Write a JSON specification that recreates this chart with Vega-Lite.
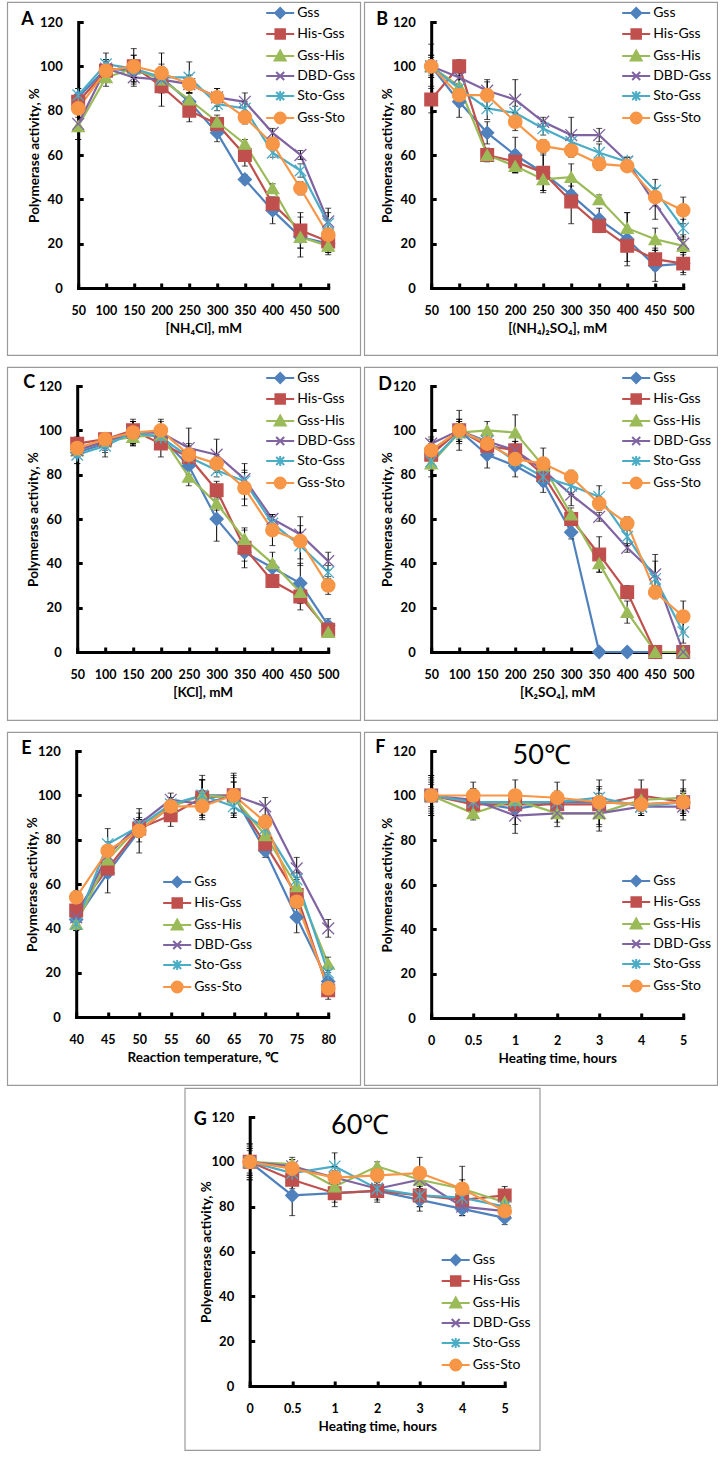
{
"$schema": "https://vega.github.io/schema/vega-lite/v6.json",
"padding": {"left": 6, "top": 1, "right": 0, "bottom": 0},
"datasets": {"d": [
{"p":"A","s":"Gss","x":50,"v":86,"e":4},{"p":"A","s":"Gss","x":100,"v":99,"e":4},{"p":"A","s":"Gss","x":150,"v":98,"e":5},{"p":"A","s":"Gss","x":200,"v":95,"e":6},{"p":"A","s":"Gss","x":250,"v":84,"e":4},{"p":"A","s":"Gss","x":300,"v":70,"e":4},{"p":"A","s":"Gss","x":350,"v":49,"e":2},{"p":"A","s":"Gss","x":400,"v":35,"e":6},{"p":"A","s":"Gss","x":450,"v":23,"e":9},{"p":"A","s":"Gss","x":500,"v":20,"e":5},
{"p":"A","s":"His-Gss","x":50,"v":84,"e":4},{"p":"A","s":"His-Gss","x":100,"v":98,"e":5},{"p":"A","s":"His-Gss","x":150,"v":100,"e":8},{"p":"A","s":"His-Gss","x":200,"v":91,"e":9},{"p":"A","s":"His-Gss","x":250,"v":80,"e":5},{"p":"A","s":"His-Gss","x":300,"v":74,"e":3},{"p":"A","s":"His-Gss","x":350,"v":60,"e":5},{"p":"A","s":"His-Gss","x":400,"v":38,"e":3},{"p":"A","s":"His-Gss","x":450,"v":26,"e":8},{"p":"A","s":"His-Gss","x":500,"v":21,"e":5},
{"p":"A","s":"Gss-His","x":50,"v":73,"e":6},{"p":"A","s":"Gss-His","x":100,"v":95,"e":4},{"p":"A","s":"Gss-His","x":150,"v":99,"e":4},{"p":"A","s":"Gss-His","x":200,"v":94,"e":5},{"p":"A","s":"Gss-His","x":250,"v":85,"e":3},{"p":"A","s":"Gss-His","x":300,"v":75,"e":3},{"p":"A","s":"Gss-His","x":350,"v":65,"e":2},{"p":"A","s":"Gss-His","x":400,"v":45,"e":2},{"p":"A","s":"Gss-His","x":450,"v":23,"e":5},{"p":"A","s":"Gss-His","x":500,"v":19,"e":3},
{"p":"A","s":"DBD-Gss","x":50,"v":74,"e":7},{"p":"A","s":"DBD-Gss","x":100,"v":99,"e":3},{"p":"A","s":"DBD-Gss","x":150,"v":95,"e":4},{"p":"A","s":"DBD-Gss","x":200,"v":94,"e":4},{"p":"A","s":"DBD-Gss","x":250,"v":92,"e":4},{"p":"A","s":"DBD-Gss","x":300,"v":86,"e":4},{"p":"A","s":"DBD-Gss","x":350,"v":84,"e":4},{"p":"A","s":"DBD-Gss","x":400,"v":70,"e":2},{"p":"A","s":"DBD-Gss","x":450,"v":60,"e":2},{"p":"A","s":"DBD-Gss","x":500,"v":30,"e":4},
{"p":"A","s":"Sto-Gss","x":50,"v":87,"e":3},{"p":"A","s":"Sto-Gss","x":100,"v":101,"e":5},{"p":"A","s":"Sto-Gss","x":150,"v":99,"e":6},{"p":"A","s":"Sto-Gss","x":200,"v":95,"e":4},{"p":"A","s":"Sto-Gss","x":250,"v":95,"e":7},{"p":"A","s":"Sto-Gss","x":300,"v":83,"e":3},{"p":"A","s":"Sto-Gss","x":350,"v":81,"e":3},{"p":"A","s":"Sto-Gss","x":400,"v":61,"e":2},{"p":"A","s":"Sto-Gss","x":450,"v":53,"e":3},{"p":"A","s":"Sto-Gss","x":500,"v":29,"e":7},
{"p":"A","s":"Gss-Sto","x":50,"v":81,"e":4},{"p":"A","s":"Gss-Sto","x":100,"v":98,"e":4},{"p":"A","s":"Gss-Sto","x":150,"v":100,"e":5},{"p":"A","s":"Gss-Sto","x":200,"v":97,"e":9},{"p":"A","s":"Gss-Sto","x":250,"v":92,"e":4},{"p":"A","s":"Gss-Sto","x":300,"v":86,"e":4},{"p":"A","s":"Gss-Sto","x":350,"v":77,"e":3},{"p":"A","s":"Gss-Sto","x":400,"v":65,"e":2},{"p":"A","s":"Gss-Sto","x":450,"v":45,"e":3},{"p":"A","s":"Gss-Sto","x":500,"v":24,"e":3},
{"p":"B","s":"Gss","x":50,"v":100,"e":5},{"p":"B","s":"Gss","x":100,"v":84,"e":7},{"p":"B","s":"Gss","x":150,"v":70,"e":5},{"p":"B","s":"Gss","x":200,"v":60,"e":8},{"p":"B","s":"Gss","x":250,"v":52,"e":9},{"p":"B","s":"Gss","x":300,"v":42,"e":4},{"p":"B","s":"Gss","x":350,"v":31,"e":5},{"p":"B","s":"Gss","x":400,"v":22,"e":12},{"p":"B","s":"Gss","x":450,"v":10,"e":7},{"p":"B","s":"Gss","x":500,"v":11,"e":4},
{"p":"B","s":"His-Gss","x":50,"v":85,"e":6},{"p":"B","s":"His-Gss","x":100,"v":100,"e":3},{"p":"B","s":"His-Gss","x":150,"v":60,"e":3},{"p":"B","s":"His-Gss","x":200,"v":57,"e":5},{"p":"B","s":"His-Gss","x":250,"v":52,"e":8},{"p":"B","s":"His-Gss","x":300,"v":39,"e":10},{"p":"B","s":"His-Gss","x":350,"v":28,"e":3},{"p":"B","s":"His-Gss","x":400,"v":19,"e":7},{"p":"B","s":"His-Gss","x":450,"v":13,"e":5},{"p":"B","s":"His-Gss","x":500,"v":11,"e":5},
{"p":"B","s":"Gss-His","x":50,"v":100,"e":4},{"p":"B","s":"Gss-His","x":100,"v":91,"e":5},{"p":"B","s":"Gss-His","x":150,"v":60,"e":3},{"p":"B","s":"Gss-His","x":200,"v":55,"e":3},{"p":"B","s":"Gss-His","x":250,"v":49,"e":5},{"p":"B","s":"Gss-His","x":300,"v":50,"e":6},{"p":"B","s":"Gss-His","x":350,"v":40,"e":2},{"p":"B","s":"Gss-His","x":400,"v":27,"e":7},{"p":"B","s":"Gss-His","x":450,"v":22,"e":5},{"p":"B","s":"Gss-His","x":500,"v":19,"e":3},
{"p":"B","s":"DBD-Gss","x":50,"v":100,"e":10},{"p":"B","s":"DBD-Gss","x":100,"v":95,"e":4},{"p":"B","s":"DBD-Gss","x":150,"v":89,"e":5},{"p":"B","s":"DBD-Gss","x":200,"v":85,"e":9},{"p":"B","s":"DBD-Gss","x":250,"v":75,"e":2},{"p":"B","s":"DBD-Gss","x":300,"v":69,"e":8},{"p":"B","s":"DBD-Gss","x":350,"v":69,"e":3},{"p":"B","s":"DBD-Gss","x":400,"v":57,"e":2},{"p":"B","s":"DBD-Gss","x":450,"v":38,"e":7},{"p":"B","s":"DBD-Gss","x":500,"v":20,"e":4},
{"p":"B","s":"Sto-Gss","x":50,"v":100,"e":3},{"p":"B","s":"Sto-Gss","x":100,"v":90,"e":4},{"p":"B","s":"Sto-Gss","x":150,"v":81,"e":5},{"p":"B","s":"Sto-Gss","x":200,"v":79,"e":3},{"p":"B","s":"Sto-Gss","x":250,"v":72,"e":3},{"p":"B","s":"Sto-Gss","x":300,"v":66,"e":3},{"p":"B","s":"Sto-Gss","x":350,"v":61,"e":4},{"p":"B","s":"Sto-Gss","x":400,"v":57,"e":2},{"p":"B","s":"Sto-Gss","x":450,"v":44,"e":5},{"p":"B","s":"Sto-Gss","x":500,"v":27,"e":4},
{"p":"B","s":"Gss-Sto","x":50,"v":100,"e":5},{"p":"B","s":"Gss-Sto","x":100,"v":87,"e":5},{"p":"B","s":"Gss-Sto","x":150,"v":87,"e":6},{"p":"B","s":"Gss-Sto","x":200,"v":75,"e":4},{"p":"B","s":"Gss-Sto","x":250,"v":64,"e":3},{"p":"B","s":"Gss-Sto","x":300,"v":62,"e":3},{"p":"B","s":"Gss-Sto","x":350,"v":56,"e":3},{"p":"B","s":"Gss-Sto","x":400,"v":55,"e":2},{"p":"B","s":"Gss-Sto","x":450,"v":41,"e":4},{"p":"B","s":"Gss-Sto","x":500,"v":35,"e":6},
{"p":"C","s":"Gss","x":50,"v":90,"e":5},{"p":"C","s":"Gss","x":100,"v":94,"e":4},{"p":"C","s":"Gss","x":150,"v":99,"e":5},{"p":"C","s":"Gss","x":200,"v":97,"e":5},{"p":"C","s":"Gss","x":250,"v":84,"e":4},{"p":"C","s":"Gss","x":300,"v":60,"e":10},{"p":"C","s":"Gss","x":350,"v":45,"e":4},{"p":"C","s":"Gss","x":400,"v":38,"e":3},{"p":"C","s":"Gss","x":450,"v":31,"e":9},{"p":"C","s":"Gss","x":500,"v":12,"e":3},
{"p":"C","s":"His-Gss","x":50,"v":94,"e":3},{"p":"C","s":"His-Gss","x":100,"v":96,"e":3},{"p":"C","s":"His-Gss","x":150,"v":100,"e":4},{"p":"C","s":"His-Gss","x":200,"v":94,"e":6},{"p":"C","s":"His-Gss","x":250,"v":88,"e":3},{"p":"C","s":"His-Gss","x":300,"v":73,"e":4},{"p":"C","s":"His-Gss","x":350,"v":47,"e":9},{"p":"C","s":"His-Gss","x":400,"v":32,"e":2},{"p":"C","s":"His-Gss","x":450,"v":25,"e":6},{"p":"C","s":"His-Gss","x":500,"v":10,"e":3},
{"p":"C","s":"Gss-His","x":50,"v":91,"e":3},{"p":"C","s":"Gss-His","x":100,"v":95,"e":3},{"p":"C","s":"Gss-His","x":150,"v":97,"e":4},{"p":"C","s":"Gss-His","x":200,"v":98,"e":4},{"p":"C","s":"Gss-His","x":250,"v":79,"e":4},{"p":"C","s":"Gss-His","x":300,"v":67,"e":3},{"p":"C","s":"Gss-His","x":350,"v":51,"e":4},{"p":"C","s":"Gss-His","x":400,"v":40,"e":5},{"p":"C","s":"Gss-His","x":450,"v":27,"e":5},{"p":"C","s":"Gss-His","x":500,"v":9,"e":2},
{"p":"C","s":"DBD-Gss","x":50,"v":91,"e":3},{"p":"C","s":"DBD-Gss","x":100,"v":95,"e":4},{"p":"C","s":"DBD-Gss","x":150,"v":99,"e":5},{"p":"C","s":"DBD-Gss","x":200,"v":99,"e":5},{"p":"C","s":"DBD-Gss","x":250,"v":92,"e":9},{"p":"C","s":"DBD-Gss","x":300,"v":89,"e":7},{"p":"C","s":"DBD-Gss","x":350,"v":78,"e":3},{"p":"C","s":"DBD-Gss","x":400,"v":60,"e":2},{"p":"C","s":"DBD-Gss","x":450,"v":53,"e":4},{"p":"C","s":"DBD-Gss","x":500,"v":41,"e":4},
{"p":"C","s":"Sto-Gss","x":50,"v":89,"e":4},{"p":"C","s":"Sto-Gss","x":100,"v":93,"e":5},{"p":"C","s":"Sto-Gss","x":150,"v":99,"e":6},{"p":"C","s":"Sto-Gss","x":200,"v":97,"e":4},{"p":"C","s":"Sto-Gss","x":250,"v":88,"e":5},{"p":"C","s":"Sto-Gss","x":300,"v":82,"e":3},{"p":"C","s":"Sto-Gss","x":350,"v":77,"e":8},{"p":"C","s":"Sto-Gss","x":400,"v":58,"e":3},{"p":"C","s":"Sto-Gss","x":450,"v":48,"e":6},{"p":"C","s":"Sto-Gss","x":500,"v":36,"e":3},
{"p":"C","s":"Gss-Sto","x":50,"v":92,"e":3},{"p":"C","s":"Gss-Sto","x":100,"v":96,"e":3},{"p":"C","s":"Gss-Sto","x":150,"v":99,"e":5},{"p":"C","s":"Gss-Sto","x":200,"v":100,"e":5},{"p":"C","s":"Gss-Sto","x":250,"v":89,"e":5},{"p":"C","s":"Gss-Sto","x":300,"v":85,"e":4},{"p":"C","s":"Gss-Sto","x":350,"v":74,"e":8},{"p":"C","s":"Gss-Sto","x":400,"v":55,"e":7},{"p":"C","s":"Gss-Sto","x":450,"v":50,"e":11},{"p":"C","s":"Gss-Sto","x":500,"v":30,"e":4},
{"p":"D","s":"Gss","x":50,"v":90,"e":5},{"p":"D","s":"Gss","x":100,"v":100,"e":9},{"p":"D","s":"Gss","x":150,"v":89,"e":6},{"p":"D","s":"Gss","x":200,"v":84,"e":5},{"p":"D","s":"Gss","x":250,"v":77,"e":5},{"p":"D","s":"Gss","x":300,"v":54,"e":3},{"p":"D","s":"Gss","x":350,"v":0,"e":0},{"p":"D","s":"Gss","x":400,"v":0,"e":0},{"p":"D","s":"Gss","x":450,"v":0,"e":0},{"p":"D","s":"Gss","x":500,"v":0,"e":0},
{"p":"D","s":"His-Gss","x":50,"v":89,"e":5},{"p":"D","s":"His-Gss","x":100,"v":100,"e":5},{"p":"D","s":"His-Gss","x":150,"v":93,"e":4},{"p":"D","s":"His-Gss","x":200,"v":91,"e":4},{"p":"D","s":"His-Gss","x":250,"v":80,"e":4},{"p":"D","s":"His-Gss","x":300,"v":60,"e":3},{"p":"D","s":"His-Gss","x":350,"v":44,"e":8},{"p":"D","s":"His-Gss","x":400,"v":27,"e":3},{"p":"D","s":"His-Gss","x":450,"v":0,"e":0},{"p":"D","s":"His-Gss","x":500,"v":0,"e":0},
{"p":"D","s":"Gss-His","x":50,"v":85,"e":6},{"p":"D","s":"Gss-His","x":100,"v":99,"e":5},{"p":"D","s":"Gss-His","x":150,"v":100,"e":4},{"p":"D","s":"Gss-His","x":200,"v":99,"e":8},{"p":"D","s":"Gss-His","x":250,"v":84,"e":3},{"p":"D","s":"Gss-His","x":300,"v":62,"e":3},{"p":"D","s":"Gss-His","x":350,"v":40,"e":4},{"p":"D","s":"Gss-His","x":400,"v":18,"e":5},{"p":"D","s":"Gss-His","x":450,"v":0,"e":0},{"p":"D","s":"Gss-His","x":500,"v":0,"e":0},
{"p":"D","s":"DBD-Gss","x":50,"v":94,"e":3},{"p":"D","s":"DBD-Gss","x":100,"v":100,"e":4},{"p":"D","s":"DBD-Gss","x":150,"v":95,"e":4},{"p":"D","s":"DBD-Gss","x":200,"v":91,"e":4},{"p":"D","s":"DBD-Gss","x":250,"v":82,"e":4},{"p":"D","s":"DBD-Gss","x":300,"v":71,"e":5},{"p":"D","s":"DBD-Gss","x":350,"v":61,"e":2},{"p":"D","s":"DBD-Gss","x":400,"v":47,"e":2},{"p":"D","s":"DBD-Gss","x":450,"v":35,"e":9},{"p":"D","s":"DBD-Gss","x":500,"v":0,"e":1},
{"p":"D","s":"Sto-Gss","x":50,"v":86,"e":4},{"p":"D","s":"Sto-Gss","x":100,"v":99,"e":4},{"p":"D","s":"Sto-Gss","x":150,"v":95,"e":3},{"p":"D","s":"Sto-Gss","x":200,"v":86,"e":3},{"p":"D","s":"Sto-Gss","x":250,"v":79,"e":4},{"p":"D","s":"Sto-Gss","x":300,"v":75,"e":4},{"p":"D","s":"Sto-Gss","x":350,"v":70,"e":5},{"p":"D","s":"Sto-Gss","x":400,"v":52,"e":4},{"p":"D","s":"Sto-Gss","x":450,"v":33,"e":8},{"p":"D","s":"Sto-Gss","x":500,"v":9,"e":5},
{"p":"D","s":"Gss-Sto","x":50,"v":91,"e":5},{"p":"D","s":"Gss-Sto","x":100,"v":100,"e":5},{"p":"D","s":"Gss-Sto","x":150,"v":94,"e":5},{"p":"D","s":"Gss-Sto","x":200,"v":87,"e":4},{"p":"D","s":"Gss-Sto","x":250,"v":85,"e":7},{"p":"D","s":"Gss-Sto","x":300,"v":79,"e":3},{"p":"D","s":"Gss-Sto","x":350,"v":67,"e":3},{"p":"D","s":"Gss-Sto","x":400,"v":58,"e":3},{"p":"D","s":"Gss-Sto","x":450,"v":27,"e":3},{"p":"D","s":"Gss-Sto","x":500,"v":16,"e":7},
{"p":"E","s":"Gss","x":40,"v":44,"e":4},{"p":"E","s":"Gss","x":45,"v":65,"e":9},{"p":"E","s":"Gss","x":50,"v":84,"e":5},{"p":"E","s":"Gss","x":55,"v":95,"e":4},{"p":"E","s":"Gss","x":60,"v":100,"e":9},{"p":"E","s":"Gss","x":65,"v":100,"e":8},{"p":"E","s":"Gss","x":70,"v":75,"e":3},{"p":"E","s":"Gss","x":75,"v":45,"e":7},{"p":"E","s":"Gss","x":80,"v":16,"e":4},
{"p":"E","s":"His-Gss","x":40,"v":48,"e":3},{"p":"E","s":"His-Gss","x":45,"v":67,"e":4},{"p":"E","s":"His-Gss","x":50,"v":85,"e":4},{"p":"E","s":"His-Gss","x":55,"v":91,"e":5},{"p":"E","s":"His-Gss","x":60,"v":99,"e":8},{"p":"E","s":"His-Gss","x":65,"v":100,"e":9},{"p":"E","s":"His-Gss","x":70,"v":78,"e":4},{"p":"E","s":"His-Gss","x":75,"v":55,"e":4},{"p":"E","s":"His-Gss","x":80,"v":12,"e":4},
{"p":"E","s":"Gss-His","x":40,"v":42,"e":3},{"p":"E","s":"Gss-His","x":45,"v":71,"e":4},{"p":"E","s":"Gss-His","x":50,"v":86,"e":4},{"p":"E","s":"Gss-His","x":55,"v":95,"e":3},{"p":"E","s":"Gss-His","x":60,"v":100,"e":7},{"p":"E","s":"Gss-His","x":65,"v":99,"e":7},{"p":"E","s":"Gss-His","x":70,"v":82,"e":3},{"p":"E","s":"Gss-His","x":75,"v":59,"e":4},{"p":"E","s":"Gss-His","x":80,"v":24,"e":3},
{"p":"E","s":"DBD-Gss","x":40,"v":45,"e":2},{"p":"E","s":"DBD-Gss","x":45,"v":73,"e":3},{"p":"E","s":"DBD-Gss","x":50,"v":87,"e":5},{"p":"E","s":"DBD-Gss","x":55,"v":98,"e":3},{"p":"E","s":"DBD-Gss","x":60,"v":96,"e":6},{"p":"E","s":"DBD-Gss","x":65,"v":100,"e":6},{"p":"E","s":"DBD-Gss","x":70,"v":95,"e":4},{"p":"E","s":"DBD-Gss","x":75,"v":67,"e":5},{"p":"E","s":"DBD-Gss","x":80,"v":40,"e":4},
{"p":"E","s":"Sto-Gss","x":40,"v":42,"e":3},{"p":"E","s":"Sto-Gss","x":45,"v":78,"e":7},{"p":"E","s":"Sto-Gss","x":50,"v":86,"e":3},{"p":"E","s":"Sto-Gss","x":55,"v":96,"e":3},{"p":"E","s":"Sto-Gss","x":60,"v":100,"e":7},{"p":"E","s":"Sto-Gss","x":65,"v":95,"e":5},{"p":"E","s":"Sto-Gss","x":70,"v":85,"e":3},{"p":"E","s":"Sto-Gss","x":75,"v":62,"e":3},{"p":"E","s":"Sto-Gss","x":80,"v":20,"e":3},
{"p":"E","s":"Gss-Sto","x":40,"v":54,"e":3},{"p":"E","s":"Gss-Sto","x":45,"v":75,"e":4},{"p":"E","s":"Gss-Sto","x":50,"v":84,"e":10},{"p":"E","s":"Gss-Sto","x":55,"v":95,"e":4},{"p":"E","s":"Gss-Sto","x":60,"v":95,"e":6},{"p":"E","s":"Gss-Sto","x":65,"v":100,"e":10},{"p":"E","s":"Gss-Sto","x":70,"v":88,"e":3},{"p":"E","s":"Gss-Sto","x":75,"v":52,"e":3},{"p":"E","s":"Gss-Sto","x":80,"v":13,"e":3},
{"p":"F","s":"Gss","x":0,"v":100,"e":8},{"p":"F","s":"Gss","x":0.5,"v":97,"e":6},{"p":"F","s":"Gss","x":1,"v":94,"e":7},{"p":"F","s":"Gss","x":2,"v":97,"e":5},{"p":"F","s":"Gss","x":3,"v":97,"e":6},{"p":"F","s":"Gss","x":4,"v":96,"e":4},{"p":"F","s":"Gss","x":5,"v":97,"e":5},
{"p":"F","s":"His-Gss","x":0,"v":100,"e":9},{"p":"F","s":"His-Gss","x":0.5,"v":96,"e":5},{"p":"F","s":"His-Gss","x":1,"v":96,"e":5},{"p":"F","s":"His-Gss","x":2,"v":96,"e":5},{"p":"F","s":"His-Gss","x":3,"v":96,"e":5},{"p":"F","s":"His-Gss","x":4,"v":100,"e":7},{"p":"F","s":"His-Gss","x":5,"v":97,"e":4},
{"p":"F","s":"Gss-His","x":0,"v":100,"e":7},{"p":"F","s":"Gss-His","x":0.5,"v":92,"e":3},{"p":"F","s":"Gss-His","x":1,"v":98,"e":4},{"p":"F","s":"Gss-His","x":2,"v":92,"e":6},{"p":"F","s":"Gss-His","x":3,"v":92,"e":6},{"p":"F","s":"Gss-His","x":4,"v":98,"e":4},{"p":"F","s":"Gss-His","x":5,"v":99,"e":8},
{"p":"F","s":"DBD-Gss","x":0,"v":100,"e":9},{"p":"F","s":"DBD-Gss","x":0.5,"v":98,"e":5},{"p":"F","s":"DBD-Gss","x":1,"v":91,"e":8},{"p":"F","s":"DBD-Gss","x":2,"v":92,"e":4},{"p":"F","s":"DBD-Gss","x":3,"v":92,"e":8},{"p":"F","s":"DBD-Gss","x":4,"v":95,"e":4},{"p":"F","s":"DBD-Gss","x":5,"v":95,"e":6},
{"p":"F","s":"Sto-Gss","x":0,"v":100,"e":5},{"p":"F","s":"Sto-Gss","x":0.5,"v":97,"e":4},{"p":"F","s":"Sto-Gss","x":1,"v":97,"e":4},{"p":"F","s":"Sto-Gss","x":2,"v":97,"e":4},{"p":"F","s":"Sto-Gss","x":3,"v":99,"e":5},{"p":"F","s":"Sto-Gss","x":4,"v":95,"e":4},{"p":"F","s":"Sto-Gss","x":5,"v":97,"e":5},
{"p":"F","s":"Gss-Sto","x":0,"v":100,"e":6},{"p":"F","s":"Gss-Sto","x":0.5,"v":100,"e":6},{"p":"F","s":"Gss-Sto","x":1,"v":100,"e":7},{"p":"F","s":"Gss-Sto","x":2,"v":99,"e":7},{"p":"F","s":"Gss-Sto","x":3,"v":97,"e":10},{"p":"F","s":"Gss-Sto","x":4,"v":96,"e":5},{"p":"F","s":"Gss-Sto","x":5,"v":97,"e":6},
{"p":"G","s":"Gss","x":0,"v":100,"e":8},{"p":"G","s":"Gss","x":0.5,"v":85,"e":9},{"p":"G","s":"Gss","x":1,"v":86,"e":4},{"p":"G","s":"Gss","x":2,"v":87,"e":4},{"p":"G","s":"Gss","x":3,"v":83,"e":5},{"p":"G","s":"Gss","x":4,"v":79,"e":3},{"p":"G","s":"Gss","x":5,"v":75,"e":3},
{"p":"G","s":"His-Gss","x":0,"v":100,"e":7},{"p":"G","s":"His-Gss","x":0.5,"v":92,"e":4},{"p":"G","s":"His-Gss","x":1,"v":86,"e":6},{"p":"G","s":"His-Gss","x":2,"v":87,"e":5},{"p":"G","s":"His-Gss","x":3,"v":85,"e":5},{"p":"G","s":"His-Gss","x":4,"v":83,"e":5},{"p":"G","s":"His-Gss","x":5,"v":85,"e":4},
{"p":"G","s":"Gss-His","x":0,"v":100,"e":6},{"p":"G","s":"Gss-His","x":0.5,"v":99,"e":3},{"p":"G","s":"Gss-His","x":1,"v":89,"e":3},{"p":"G","s":"Gss-His","x":2,"v":98,"e":2},{"p":"G","s":"Gss-His","x":3,"v":92,"e":3},{"p":"G","s":"Gss-His","x":4,"v":88,"e":4},{"p":"G","s":"Gss-His","x":5,"v":82,"e":3},
{"p":"G","s":"DBD-Gss","x":0,"v":100,"e":5},{"p":"G","s":"DBD-Gss","x":0.5,"v":98,"e":3},{"p":"G","s":"DBD-Gss","x":1,"v":93,"e":3},{"p":"G","s":"DBD-Gss","x":2,"v":88,"e":4},{"p":"G","s":"DBD-Gss","x":3,"v":92,"e":4},{"p":"G","s":"DBD-Gss","x":4,"v":80,"e":4},{"p":"G","s":"DBD-Gss","x":5,"v":78,"e":3},
{"p":"G","s":"Sto-Gss","x":0,"v":100,"e":8},{"p":"G","s":"Sto-Gss","x":0.5,"v":95,"e":4},{"p":"G","s":"Sto-Gss","x":1,"v":98,"e":6},{"p":"G","s":"Sto-Gss","x":2,"v":88,"e":3},{"p":"G","s":"Sto-Gss","x":3,"v":85,"e":5},{"p":"G","s":"Sto-Gss","x":4,"v":84,"e":4},{"p":"G","s":"Sto-Gss","x":5,"v":80,"e":3},
{"p":"G","s":"Gss-Sto","x":0,"v":100,"e":6},{"p":"G","s":"Gss-Sto","x":0.5,"v":97,"e":4},{"p":"G","s":"Gss-Sto","x":1,"v":93,"e":5},{"p":"G","s":"Gss-Sto","x":2,"v":94,"e":4},{"p":"G","s":"Gss-Sto","x":3,"v":95,"e":7},{"p":"G","s":"Gss-Sto","x":4,"v":88,"e":10},{"p":"G","s":"Gss-Sto","x":5,"v":78,"e":3}
]},
"data": {"name": "d"},
"vconcat": [
 {"concat": [
   {"width": 353, "height": 353,
    "title": {"text": "A", "dx": 14, "dy": 31},
    "transform": [{"filter": "datum.p==='A'"}],
    "encoding": {
     "x": {"field": "x", "type": "ordinal", "scale": {"type": "point", "domain": [50,100,150,200,250,300,350,400,450,500], "range": [71,321], "padding": 0}, "axis": {"title": "[NH₄Cl], mM", "offset": -67}},
     "y": {"field": "v", "type": "quantitative", "scale": {"domain": [0,120], "range": [286,20], "nice": false}, "axis": {"title": "Polymerase activity, %", "offset": -71, "values": [0,20,40,60,80,100,120]}}
    },
    "resolve": {"scale": {"color": "independent", "stroke": "independent", "shape": "independent", "size": "independent"}},
    "layer": [
     {"mark": {"type": "line", "strokeWidth": 2.2}, "encoding": {"color": {"field": "s", "type": "nominal", "scale": {"domain": ["Gss-Sto","Gss","His-Gss","Gss-His","DBD-Gss","Sto-Gss"], "range": ["#F79646","#4F81BD","#C0504D","#9BBB59","#8064A2","#4BACC6"]}, "legend": null}}},
     {"mark": {"type": "errorbar", "color": "black", "ticks": {"size": 6, "color": "black"}, "rule": {"color": "black", "strokeWidth": 1}}, "encoding": {"yError": {"field": "e"}}},
     {"mark": {"type": "point", "filled": true, "opacity": 1, "strokeWidth": 1.3},
      "encoding": {
       "color": {"field": "s", "type": "nominal", "scale": {"domain": ["Gss-Sto","Gss","His-Gss","Gss-His","DBD-Gss","Sto-Gss"], "range": ["#F79646","#4F81BD","#C0504D","#9BBB59","#8064A2","#4BACC6"]}, "legend": null},
       "stroke": {"field": "s", "type": "nominal", "scale": {"domain": ["Gss-Sto","Gss","His-Gss","Gss-His","DBD-Gss","Sto-Gss"], "range": ["#F79646","#4F81BD","#C0504D","#9BBB59","#8064A2","#4BACC6"]}, "legend": null},
       "size": {"field": "s", "type": "nominal", "scale": {"domain": ["Gss-Sto","Gss","His-Gss","Gss-His","DBD-Gss","Sto-Gss"], "range": [180,130,120,150,100,110]}, "legend": null},
       "shape": {"field": "s", "type": "nominal", "scale": {"domain": ["Gss-Sto","Gss","His-Gss","Gss-His","DBD-Gss","Sto-Gss"], "range": ["circle","diamond","square","triangle-up","M-1,-1L1,1M-1,1L1,-1","M-1,-1L1,1M-1,1L1,-1M0,-1.2V1.2"]}, "legend": null}
      }},
     {"mark": {"type": "point", "filled": true, "opacity": 0},
      "encoding": {
       "color": {"field": "s", "type": "nominal", "scale": {"domain": ["Gss","His-Gss","Gss-His","DBD-Gss","Sto-Gss","Gss-Sto"], "range": ["#4F81BD","#C0504D","#9BBB59","#8064A2","#4BACC6","#F79646"]}, "legend": {"orient": "none", "legendX": 266, "legendY": 4, "title": null}},
       "stroke": {"field": "s", "type": "nominal", "scale": {"domain": ["Gss","His-Gss","Gss-His","DBD-Gss","Sto-Gss","Gss-Sto"], "range": ["#4F81BD","#C0504D","#9BBB59","#8064A2","#4BACC6","#F79646"]}, "legend": {"orient": "none", "legendX": 266, "legendY": 4, "title": null}},
       "shape": {"field": "s", "type": "nominal", "scale": {"domain": ["Gss","His-Gss","Gss-His","DBD-Gss","Sto-Gss","Gss-Sto"], "range": ["M-2.8,0H2.8M-1,0L0,-1L1,0L0,1Z","M-2.8,0H2.8M-0.95,-0.95H0.95V0.95H-0.95Z","M-2.8,0H2.8M0,-1.1L1.1,0.9H-1.1Z","M-2.8,0H2.8M-0.8,-0.8L0.8,0.8M-0.8,0.8L0.8,-0.8","M-2.8,0H2.8M-0.8,-0.8L0.8,0.8M-0.8,0.8L0.8,-0.8M0,-1V1","M-2.8,0H2.8M-1.1,0A1.1,1.1,0,1,0,1.1,0A1.1,1.1,0,1,0,-1.1,0Z"]}, "legend": {"orient": "none", "legendX": 266, "legendY": 4, "title": null}}
      }}
    ]},
   {"width": 353, "height": 353,
    "title": {"text": "B", "dx": 12, "dy": 31},
    "transform": [{"filter": "datum.p==='B'"}],
    "encoding": {
     "x": {"field": "x", "type": "ordinal", "scale": {"type": "point", "domain": [50,100,150,200,250,300,350,400,450,500], "range": [67,319], "padding": 0}, "axis": {"title": "[(NH₄)₂SO₄], mM", "offset": -67}},
     "y": {"field": "v", "type": "quantitative", "scale": {"domain": [0,120], "range": [286,20], "nice": false}, "axis": {"title": "Polymerase activity, %", "offset": -67, "values": [0,20,40,60,80,100,120]}}
    },
    "resolve": {"scale": {"color": "independent", "stroke": "independent", "shape": "independent", "size": "independent"}},
    "layer": [
     {"mark": {"type": "line", "strokeWidth": 2.2}, "encoding": {"color": {"field": "s", "type": "nominal", "scale": {"domain": ["Gss-Sto","Gss","His-Gss","Gss-His","DBD-Gss","Sto-Gss"], "range": ["#F79646","#4F81BD","#C0504D","#9BBB59","#8064A2","#4BACC6"]}, "legend": null}}},
     {"mark": {"type": "errorbar", "color": "black", "ticks": {"size": 6, "color": "black"}, "rule": {"color": "black", "strokeWidth": 1}}, "encoding": {"yError": {"field": "e"}}},
     {"mark": {"type": "point", "filled": true, "opacity": 1, "strokeWidth": 1.3},
      "encoding": {
       "color": {"field": "s", "type": "nominal", "scale": {"domain": ["Gss-Sto","Gss","His-Gss","Gss-His","DBD-Gss","Sto-Gss"], "range": ["#F79646","#4F81BD","#C0504D","#9BBB59","#8064A2","#4BACC6"]}, "legend": null},
       "stroke": {"field": "s", "type": "nominal", "scale": {"domain": ["Gss-Sto","Gss","His-Gss","Gss-His","DBD-Gss","Sto-Gss"], "range": ["#F79646","#4F81BD","#C0504D","#9BBB59","#8064A2","#4BACC6"]}, "legend": null},
       "size": {"field": "s", "type": "nominal", "scale": {"domain": ["Gss-Sto","Gss","His-Gss","Gss-His","DBD-Gss","Sto-Gss"], "range": [180,130,120,150,100,110]}, "legend": null},
       "shape": {"field": "s", "type": "nominal", "scale": {"domain": ["Gss-Sto","Gss","His-Gss","Gss-His","DBD-Gss","Sto-Gss"], "range": ["circle","diamond","square","triangle-up","M-1,-1L1,1M-1,1L1,-1","M-1,-1L1,1M-1,1L1,-1M0,-1.2V1.2"]}, "legend": null}
      }},
     {"mark": {"type": "point", "filled": true, "opacity": 0},
      "encoding": {
       "color": {"field": "s", "type": "nominal", "scale": {"domain": ["Gss","His-Gss","Gss-His","DBD-Gss","Sto-Gss","Gss-Sto"], "range": ["#4F81BD","#C0504D","#9BBB59","#8064A2","#4BACC6","#F79646"]}, "legend": {"orient": "none", "legendX": 265, "legendY": 4, "title": null}},
       "stroke": {"field": "s", "type": "nominal", "scale": {"domain": ["Gss","His-Gss","Gss-His","DBD-Gss","Sto-Gss","Gss-Sto"], "range": ["#4F81BD","#C0504D","#9BBB59","#8064A2","#4BACC6","#F79646"]}, "legend": {"orient": "none", "legendX": 265, "legendY": 4, "title": null}},
       "shape": {"field": "s", "type": "nominal", "scale": {"domain": ["Gss","His-Gss","Gss-His","DBD-Gss","Sto-Gss","Gss-Sto"], "range": ["M-2.8,0H2.8M-1,0L0,-1L1,0L0,1Z","M-2.8,0H2.8M-0.95,-0.95H0.95V0.95H-0.95Z","M-2.8,0H2.8M0,-1.1L1.1,0.9H-1.1Z","M-2.8,0H2.8M-0.8,-0.8L0.8,0.8M-0.8,0.8L0.8,-0.8","M-2.8,0H2.8M-0.8,-0.8L0.8,0.8M-0.8,0.8L0.8,-0.8M0,-1V1","M-2.8,0H2.8M-1.1,0A1.1,1.1,0,1,0,1.1,0A1.1,1.1,0,1,0,-1.1,0Z"]}, "legend": {"orient": "none", "legendX": 265, "legendY": 4, "title": null}}
      }}
    ]},
   {"width": 353, "height": 353,
    "title": {"text": "C", "dx": 16, "dy": 29},
    "transform": [{"filter": "datum.p==='C'"}],
    "encoding": {
     "x": {"field": "x", "type": "ordinal", "scale": {"type": "point", "domain": [50,100,150,200,250,300,350,400,450,500], "range": [70,321], "padding": 0}, "axis": {"title": "[KCl], mM", "offset": -68}},
     "y": {"field": "v", "type": "quantitative", "scale": {"domain": [0,120], "range": [285,19], "nice": false}, "axis": {"title": "Polymerase activity, %", "offset": -70, "values": [0,20,40,60,80,100,120]}}
    },
    "resolve": {"scale": {"color": "independent", "stroke": "independent", "shape": "independent", "size": "independent"}},
    "layer": [
     {"mark": {"type": "line", "strokeWidth": 2.2}, "encoding": {"color": {"field": "s", "type": "nominal", "scale": {"domain": ["Gss-Sto","Gss","His-Gss","Gss-His","DBD-Gss","Sto-Gss"], "range": ["#F79646","#4F81BD","#C0504D","#9BBB59","#8064A2","#4BACC6"]}, "legend": null}}},
     {"mark": {"type": "errorbar", "color": "black", "ticks": {"size": 6, "color": "black"}, "rule": {"color": "black", "strokeWidth": 1}}, "encoding": {"yError": {"field": "e"}}},
     {"mark": {"type": "point", "filled": true, "opacity": 1, "strokeWidth": 1.3},
      "encoding": {
       "color": {"field": "s", "type": "nominal", "scale": {"domain": ["Gss-Sto","Gss","His-Gss","Gss-His","DBD-Gss","Sto-Gss"], "range": ["#F79646","#4F81BD","#C0504D","#9BBB59","#8064A2","#4BACC6"]}, "legend": null},
       "stroke": {"field": "s", "type": "nominal", "scale": {"domain": ["Gss-Sto","Gss","His-Gss","Gss-His","DBD-Gss","Sto-Gss"], "range": ["#F79646","#4F81BD","#C0504D","#9BBB59","#8064A2","#4BACC6"]}, "legend": null},
       "size": {"field": "s", "type": "nominal", "scale": {"domain": ["Gss-Sto","Gss","His-Gss","Gss-His","DBD-Gss","Sto-Gss"], "range": [180,130,120,150,100,110]}, "legend": null},
       "shape": {"field": "s", "type": "nominal", "scale": {"domain": ["Gss-Sto","Gss","His-Gss","Gss-His","DBD-Gss","Sto-Gss"], "range": ["circle","diamond","square","triangle-up","M-1,-1L1,1M-1,1L1,-1","M-1,-1L1,1M-1,1L1,-1M0,-1.2V1.2"]}, "legend": null}
      }},
     {"mark": {"type": "point", "filled": true, "opacity": 0},
      "encoding": {
       "color": {"field": "s", "type": "nominal", "scale": {"domain": ["Gss","His-Gss","Gss-His","DBD-Gss","Sto-Gss","Gss-Sto"], "range": ["#4F81BD","#C0504D","#9BBB59","#8064A2","#4BACC6","#F79646"]}, "legend": {"orient": "none", "legendX": 266, "legendY": 4, "title": null}},
       "stroke": {"field": "s", "type": "nominal", "scale": {"domain": ["Gss","His-Gss","Gss-His","DBD-Gss","Sto-Gss","Gss-Sto"], "range": ["#4F81BD","#C0504D","#9BBB59","#8064A2","#4BACC6","#F79646"]}, "legend": {"orient": "none", "legendX": 266, "legendY": 4, "title": null}},
       "shape": {"field": "s", "type": "nominal", "scale": {"domain": ["Gss","His-Gss","Gss-His","DBD-Gss","Sto-Gss","Gss-Sto"], "range": ["M-2.8,0H2.8M-1,0L0,-1L1,0L0,1Z","M-2.8,0H2.8M-0.95,-0.95H0.95V0.95H-0.95Z","M-2.8,0H2.8M0,-1.1L1.1,0.9H-1.1Z","M-2.8,0H2.8M-0.8,-0.8L0.8,0.8M-0.8,0.8L0.8,-0.8","M-2.8,0H2.8M-0.8,-0.8L0.8,0.8M-0.8,0.8L0.8,-0.8M0,-1V1","M-2.8,0H2.8M-1.1,0A1.1,1.1,0,1,0,1.1,0A1.1,1.1,0,1,0,-1.1,0Z"]}, "legend": {"orient": "none", "legendX": 266, "legendY": 4, "title": null}}
      }}
    ]},
   {"width": 353, "height": 353,
    "title": {"text": "D", "dx": 14, "dy": 31},
    "transform": [{"filter": "datum.p==='D'"}],
    "encoding": {
     "x": {"field": "x", "type": "ordinal", "scale": {"type": "point", "domain": [50,100,150,200,250,300,350,400,450,500], "range": [67,319], "padding": 0}, "axis": {"title": "[K₂SO₄], mM", "offset": -68}},
     "y": {"field": "v", "type": "quantitative", "scale": {"domain": [0,120], "range": [285,19], "nice": false}, "axis": {"title": "Polymerase activity, %", "offset": -67, "values": [0,20,40,60,80,100,120]}}
    },
    "resolve": {"scale": {"color": "independent", "stroke": "independent", "shape": "independent", "size": "independent"}},
    "layer": [
     {"mark": {"type": "line", "strokeWidth": 2.2}, "encoding": {"color": {"field": "s", "type": "nominal", "scale": {"domain": ["Gss-Sto","Gss","His-Gss","Gss-His","DBD-Gss","Sto-Gss"], "range": ["#F79646","#4F81BD","#C0504D","#9BBB59","#8064A2","#4BACC6"]}, "legend": null}}},
     {"mark": {"type": "errorbar", "color": "black", "ticks": {"size": 6, "color": "black"}, "rule": {"color": "black", "strokeWidth": 1}}, "encoding": {"yError": {"field": "e"}}},
     {"mark": {"type": "point", "filled": true, "opacity": 1, "strokeWidth": 1.3},
      "encoding": {
       "color": {"field": "s", "type": "nominal", "scale": {"domain": ["Gss-Sto","Gss","His-Gss","Gss-His","DBD-Gss","Sto-Gss"], "range": ["#F79646","#4F81BD","#C0504D","#9BBB59","#8064A2","#4BACC6"]}, "legend": null},
       "stroke": {"field": "s", "type": "nominal", "scale": {"domain": ["Gss-Sto","Gss","His-Gss","Gss-His","DBD-Gss","Sto-Gss"], "range": ["#F79646","#4F81BD","#C0504D","#9BBB59","#8064A2","#4BACC6"]}, "legend": null},
       "size": {"field": "s", "type": "nominal", "scale": {"domain": ["Gss-Sto","Gss","His-Gss","Gss-His","DBD-Gss","Sto-Gss"], "range": [180,130,120,150,100,110]}, "legend": null},
       "shape": {"field": "s", "type": "nominal", "scale": {"domain": ["Gss-Sto","Gss","His-Gss","Gss-His","DBD-Gss","Sto-Gss"], "range": ["circle","diamond","square","triangle-up","M-1,-1L1,1M-1,1L1,-1","M-1,-1L1,1M-1,1L1,-1M0,-1.2V1.2"]}, "legend": null}
      }},
     {"mark": {"type": "point", "filled": true, "opacity": 0},
      "encoding": {
       "color": {"field": "s", "type": "nominal", "scale": {"domain": ["Gss","His-Gss","Gss-His","DBD-Gss","Sto-Gss","Gss-Sto"], "range": ["#4F81BD","#C0504D","#9BBB59","#8064A2","#4BACC6","#F79646"]}, "legend": {"orient": "none", "legendX": 265, "legendY": 4, "title": null}},
       "stroke": {"field": "s", "type": "nominal", "scale": {"domain": ["Gss","His-Gss","Gss-His","DBD-Gss","Sto-Gss","Gss-Sto"], "range": ["#4F81BD","#C0504D","#9BBB59","#8064A2","#4BACC6","#F79646"]}, "legend": {"orient": "none", "legendX": 265, "legendY": 4, "title": null}},
       "shape": {"field": "s", "type": "nominal", "scale": {"domain": ["Gss","His-Gss","Gss-His","DBD-Gss","Sto-Gss","Gss-Sto"], "range": ["M-2.8,0H2.8M-1,0L0,-1L1,0L0,1Z","M-2.8,0H2.8M-0.95,-0.95H0.95V0.95H-0.95Z","M-2.8,0H2.8M0,-1.1L1.1,0.9H-1.1Z","M-2.8,0H2.8M-0.8,-0.8L0.8,0.8M-0.8,0.8L0.8,-0.8","M-2.8,0H2.8M-0.8,-0.8L0.8,0.8M-0.8,0.8L0.8,-0.8M0,-1V1","M-2.8,0H2.8M-1.1,0A1.1,1.1,0,1,0,1.1,0A1.1,1.1,0,1,0,-1.1,0Z"]}, "legend": {"orient": "none", "legendX": 265, "legendY": 4, "title": null}}
      }}
    ]},
   {"width": 353, "height": 353,
    "title": {"text": "E", "dx": 14, "dy": 30},
    "transform": [{"filter": "datum.p==='E'"}],
    "encoding": {
     "x": {"field": "x", "type": "ordinal", "scale": {"type": "point", "domain": [40,45,50,55,60,65,70,75,80], "range": [69,321], "padding": 0}, "axis": {"title": "Reaction temperature, ℃", "offset": -68}},
     "y": {"field": "v", "type": "quantitative", "scale": {"domain": [0,120], "range": [285,19], "nice": false}, "axis": {"title": "Polymerase activity, %", "offset": -69, "values": [0,20,40,60,80,100,120]}}
    },
    "resolve": {"scale": {"color": "independent", "stroke": "independent", "shape": "independent", "size": "independent"}},
    "layer": [
     {"mark": {"type": "line", "strokeWidth": 2.2}, "encoding": {"color": {"field": "s", "type": "nominal", "scale": {"domain": ["Gss-Sto","Gss","His-Gss","Gss-His","DBD-Gss","Sto-Gss"], "range": ["#F79646","#4F81BD","#C0504D","#9BBB59","#8064A2","#4BACC6"]}, "legend": null}}},
     {"mark": {"type": "errorbar", "color": "black", "ticks": {"size": 6, "color": "black"}, "rule": {"color": "black", "strokeWidth": 1}}, "encoding": {"yError": {"field": "e"}}},
     {"mark": {"type": "point", "filled": true, "opacity": 1, "strokeWidth": 1.3},
      "encoding": {
       "color": {"field": "s", "type": "nominal", "scale": {"domain": ["Gss-Sto","Gss","His-Gss","Gss-His","DBD-Gss","Sto-Gss"], "range": ["#F79646","#4F81BD","#C0504D","#9BBB59","#8064A2","#4BACC6"]}, "legend": null},
       "stroke": {"field": "s", "type": "nominal", "scale": {"domain": ["Gss-Sto","Gss","His-Gss","Gss-His","DBD-Gss","Sto-Gss"], "range": ["#F79646","#4F81BD","#C0504D","#9BBB59","#8064A2","#4BACC6"]}, "legend": null},
       "size": {"field": "s", "type": "nominal", "scale": {"domain": ["Gss-Sto","Gss","His-Gss","Gss-His","DBD-Gss","Sto-Gss"], "range": [180,130,120,150,100,110]}, "legend": null},
       "shape": {"field": "s", "type": "nominal", "scale": {"domain": ["Gss-Sto","Gss","His-Gss","Gss-His","DBD-Gss","Sto-Gss"], "range": ["circle","diamond","square","triangle-up","M-1,-1L1,1M-1,1L1,-1","M-1,-1L1,1M-1,1L1,-1M0,-1.2V1.2"]}, "legend": null}
      }},
     {"mark": {"type": "point", "filled": true, "opacity": 0},
      "encoding": {
       "color": {"field": "s", "type": "nominal", "scale": {"domain": ["Gss","His-Gss","Gss-His","DBD-Gss","Sto-Gss","Gss-Sto"], "range": ["#4F81BD","#C0504D","#9BBB59","#8064A2","#4BACC6","#F79646"]}, "legend": {"orient": "none", "legendX": 163, "legendY": 143, "title": null}},
       "stroke": {"field": "s", "type": "nominal", "scale": {"domain": ["Gss","His-Gss","Gss-His","DBD-Gss","Sto-Gss","Gss-Sto"], "range": ["#4F81BD","#C0504D","#9BBB59","#8064A2","#4BACC6","#F79646"]}, "legend": {"orient": "none", "legendX": 163, "legendY": 143, "title": null}},
       "shape": {"field": "s", "type": "nominal", "scale": {"domain": ["Gss","His-Gss","Gss-His","DBD-Gss","Sto-Gss","Gss-Sto"], "range": ["M-2.8,0H2.8M-1,0L0,-1L1,0L0,1Z","M-2.8,0H2.8M-0.95,-0.95H0.95V0.95H-0.95Z","M-2.8,0H2.8M0,-1.1L1.1,0.9H-1.1Z","M-2.8,0H2.8M-0.8,-0.8L0.8,0.8M-0.8,0.8L0.8,-0.8","M-2.8,0H2.8M-0.8,-0.8L0.8,0.8M-0.8,0.8L0.8,-0.8M0,-1V1","M-2.8,0H2.8M-1.1,0A1.1,1.1,0,1,0,1.1,0A1.1,1.1,0,1,0,-1.1,0Z"]}, "legend": {"orient": "none", "legendX": 163, "legendY": 143, "title": null}}
      }}
    ]},
   {"width": 353, "height": 353,
    "title": {"text": "F", "dx": 11, "dy": 29},
    "transform": [{"filter": "datum.p==='F'"}],
    "encoding": {
     "x": {"field": "x", "type": "ordinal", "scale": {"type": "point", "domain": [0,0.5,1,2,3,4,5], "range": [67,319], "padding": 0}, "axis": {"title": "Heating time, hours", "offset": -67}},
     "y": {"field": "v", "type": "quantitative", "scale": {"domain": [0,120], "range": [286,19], "nice": false}, "axis": {"title": "Polymerase activity, %", "offset": -67, "values": [0,20,40,60,80,100,120]}}
    },
    "resolve": {"axis": {"x": "independent"}, "scale": {"color": "independent", "stroke": "independent", "shape": "independent", "size": "independent"}},
    "layer": [
     {"mark": {"type": "line", "strokeWidth": 2.2}, "encoding": {
       "x": {"field": "x", "type": "ordinal", "scale": {"type": "point", "domain": [0,0.5,1,2,3,4,5], "range": [67,319], "padding": 0}, "axis": {"orient": "top", "title": "50℃", "titleFontSize": 27, "titleFontWeight": "normal", "labels": false, "ticks": false, "domain": false, "offset": -37, "titlePadding": 0, "titleX": 177}},
       "color": {"field": "s", "type": "nominal", "scale": {"domain": ["Gss-Sto","Gss","His-Gss","Gss-His","DBD-Gss","Sto-Gss"], "range": ["#F79646","#4F81BD","#C0504D","#9BBB59","#8064A2","#4BACC6"]}, "legend": null}}},
     {"mark": {"type": "errorbar", "color": "black", "ticks": {"size": 6, "color": "black"}, "rule": {"color": "black", "strokeWidth": 1}}, "encoding": {"yError": {"field": "e"}}},
     {"mark": {"type": "point", "filled": true, "opacity": 1, "strokeWidth": 1.3},
      "encoding": {
       "x": {"field": "x", "type": "ordinal", "scale": {"type": "point", "domain": [0,0.5,1,2,3,4,5], "range": [67,319], "padding": 0}, "axis": null},
       "color": {"field": "s", "type": "nominal", "scale": {"domain": ["Gss-Sto","Gss","His-Gss","Gss-His","DBD-Gss","Sto-Gss"], "range": ["#F79646","#4F81BD","#C0504D","#9BBB59","#8064A2","#4BACC6"]}, "legend": null},
       "stroke": {"field": "s", "type": "nominal", "scale": {"domain": ["Gss-Sto","Gss","His-Gss","Gss-His","DBD-Gss","Sto-Gss"], "range": ["#F79646","#4F81BD","#C0504D","#9BBB59","#8064A2","#4BACC6"]}, "legend": null},
       "size": {"field": "s", "type": "nominal", "scale": {"domain": ["Gss-Sto","Gss","His-Gss","Gss-His","DBD-Gss","Sto-Gss"], "range": [180,130,120,150,100,110]}, "legend": null},
       "shape": {"field": "s", "type": "nominal", "scale": {"domain": ["Gss-Sto","Gss","His-Gss","Gss-His","DBD-Gss","Sto-Gss"], "range": ["circle","diamond","square","triangle-up","M-1,-1L1,1M-1,1L1,-1","M-1,-1L1,1M-1,1L1,-1M0,-1.2V1.2"]}, "legend": null}
      }},
     {"mark": {"type": "point", "filled": true, "opacity": 0},
      "encoding": {
       "x": {"field": "x", "type": "ordinal", "scale": {"type": "point", "domain": [0,0.5,1,2,3,4,5], "range": [67,319], "padding": 0}, "axis": null},
       "color": {"field": "s", "type": "nominal", "scale": {"domain": ["Gss","His-Gss","Gss-His","DBD-Gss","Sto-Gss","Gss-Sto"], "range": ["#4F81BD","#C0504D","#9BBB59","#8064A2","#4BACC6","#F79646"]}, "legend": {"orient": "none", "legendX": 265, "legendY": 142, "title": null}},
       "stroke": {"field": "s", "type": "nominal", "scale": {"domain": ["Gss","His-Gss","Gss-His","DBD-Gss","Sto-Gss","Gss-Sto"], "range": ["#4F81BD","#C0504D","#9BBB59","#8064A2","#4BACC6","#F79646"]}, "legend": {"orient": "none", "legendX": 265, "legendY": 142, "title": null}},
       "shape": {"field": "s", "type": "nominal", "scale": {"domain": ["Gss","His-Gss","Gss-His","DBD-Gss","Sto-Gss","Gss-Sto"], "range": ["M-2.8,0H2.8M-1,0L0,-1L1,0L0,1Z","M-2.8,0H2.8M-0.95,-0.95H0.95V0.95H-0.95Z","M-2.8,0H2.8M0,-1.1L1.1,0.9H-1.1Z","M-2.8,0H2.8M-0.8,-0.8L0.8,0.8M-0.8,0.8L0.8,-0.8","M-2.8,0H2.8M-0.8,-0.8L0.8,0.8M-0.8,0.8L0.8,-0.8M0,-1V1","M-2.8,0H2.8M-1.1,0A1.1,1.1,0,1,0,1.1,0A1.1,1.1,0,1,0,-1.1,0Z"]}, "legend": {"orient": "none", "legendX": 265, "legendY": 142, "title": null}}
      }}
    ]}
 ], "columns": 2, "spacing": {"row": 12, "column": 4}, "bounds": "flush",
 "resolve": {"scale": {"color": "independent", "stroke": "independent", "size": "independent", "shape": "independent"}}},
 {"width": 355, "height": 362,
  "title": {"text": "G", "dx": 9, "dy": 45},
  "transform": [{"filter": "datum.p==='G'"}],
  "encoding": {
   "x": {"field": "x", "type": "ordinal", "scale": {"type": "point", "domain": [0,0.5,1,2,3,4,5], "range": [65,320], "padding": 0}, "axis": {"title": "Heating time, hours", "offset": -64}},
   "y": {"field": "v", "type": "quantitative", "scale": {"domain": [0,120], "range": [298,29], "nice": false}, "axis": {"title": "Polyemerase activity, %", "offset": -65, "values": [0,20,40,60,80,100,120]}}
  },
  "resolve": {"axis": {"x": "independent"}, "scale": {"color": "independent", "stroke": "independent", "shape": "independent", "size": "independent"}},
  "layer": [
   {"mark": {"type": "line", "strokeWidth": 2.2}, "encoding": {
     "x": {"field": "x", "type": "ordinal", "scale": {"type": "point", "domain": [0,0.5,1,2,3,4,5], "range": [65,320], "padding": 0}, "axis": {"orient": "top", "title": "60℃", "titleFontSize": 27, "titleFontWeight": "normal", "labels": false, "ticks": false, "domain": false, "offset": -51, "titlePadding": 0, "titleX": 175}},
     "color": {"field": "s", "type": "nominal", "scale": {"domain": ["Gss-Sto","Gss","His-Gss","Gss-His","DBD-Gss","Sto-Gss"], "range": ["#F79646","#4F81BD","#C0504D","#9BBB59","#8064A2","#4BACC6"]}, "legend": null}}},
   {"mark": {"type": "errorbar", "color": "black", "ticks": {"size": 6, "color": "black"}, "rule": {"color": "black", "strokeWidth": 1}}, "encoding": {"yError": {"field": "e"}}},
   {"mark": {"type": "point", "filled": true, "opacity": 1, "strokeWidth": 1.3},
    "encoding": {
     "x": {"field": "x", "type": "ordinal", "scale": {"type": "point", "domain": [0,0.5,1,2,3,4,5], "range": [65,320], "padding": 0}, "axis": null},
     "color": {"field": "s", "type": "nominal", "scale": {"domain": ["Gss-Sto","Gss","His-Gss","Gss-His","DBD-Gss","Sto-Gss"], "range": ["#F79646","#4F81BD","#C0504D","#9BBB59","#8064A2","#4BACC6"]}, "legend": null},
     "stroke": {"field": "s", "type": "nominal", "scale": {"domain": ["Gss-Sto","Gss","His-Gss","Gss-His","DBD-Gss","Sto-Gss"], "range": ["#F79646","#4F81BD","#C0504D","#9BBB59","#8064A2","#4BACC6"]}, "legend": null},
     "size": {"field": "s", "type": "nominal", "scale": {"domain": ["Gss-Sto","Gss","His-Gss","Gss-His","DBD-Gss","Sto-Gss"], "range": [180,130,120,150,100,110]}, "legend": null},
     "shape": {"field": "s", "type": "nominal", "scale": {"domain": ["Gss-Sto","Gss","His-Gss","Gss-His","DBD-Gss","Sto-Gss"], "range": ["circle","diamond","square","triangle-up","M-1,-1L1,1M-1,1L1,-1","M-1,-1L1,1M-1,1L1,-1M0,-1.2V1.2"]}, "legend": null}
    }},
   {"mark": {"type": "point", "filled": true, "opacity": 0},
    "encoding": {
     "x": {"field": "x", "type": "ordinal", "scale": {"type": "point", "domain": [0,0.5,1,2,3,4,5], "range": [65,320], "padding": 0}, "axis": null},
     "color": {"field": "s", "type": "nominal", "scale": {"domain": ["Gss","His-Gss","Gss-His","DBD-Gss","Sto-Gss","Gss-Sto"], "range": ["#4F81BD","#C0504D","#9BBB59","#8064A2","#4BACC6","#F79646"]}, "legend": {"orient": "none", "legendX": 264, "legendY": 165, "title": null}},
     "stroke": {"field": "s", "type": "nominal", "scale": {"domain": ["Gss","His-Gss","Gss-His","DBD-Gss","Sto-Gss","Gss-Sto"], "range": ["#4F81BD","#C0504D","#9BBB59","#8064A2","#4BACC6","#F79646"]}, "legend": {"orient": "none", "legendX": 264, "legendY": 165, "title": null}},
     "shape": {"field": "s", "type": "nominal", "scale": {"domain": ["Gss","His-Gss","Gss-His","DBD-Gss","Sto-Gss","Gss-Sto"], "range": ["M-2.8,0H2.8M-1,0L0,-1L1,0L0,1Z","M-2.8,0H2.8M-0.95,-0.95H0.95V0.95H-0.95Z","M-2.8,0H2.8M0,-1.1L1.1,0.9H-1.1Z","M-2.8,0H2.8M-0.8,-0.8L0.8,0.8M-0.8,0.8L0.8,-0.8","M-2.8,0H2.8M-0.8,-0.8L0.8,0.8M-0.8,0.8L0.8,-0.8M0,-1V1","M-2.8,0H2.8M-1.1,0A1.1,1.1,0,1,0,1.1,0A1.1,1.1,0,1,0,-1.1,0Z"]}, "legend": {"orient": "none", "legendX": 264, "legendY": 165, "title": null}}
    }}
  ]}
],
"spacing": 1, "bounds": "full", "center": true,
"resolve": {"scale": {"color": "independent", "stroke": "independent", "size": "independent", "shape": "independent"}},
"config": {
 "font": "Lato",
 "view": {"stroke": "#9a9a9a", "strokeWidth": 1.2},
 "title": {"anchor": "start", "frame": "group", "offset": 0, "font": "Lato", "fontSize": 18, "fontWeight": "bold", "color": "#000"},
 "axis": {"grid": false, "domainColor": "#000", "domainWidth": 3, "domainCap": "square", "tickColor": "#000", "tickWidth": 3, "tickSize": -5, "labelFont": "Lato", "labelFontSize": 13, "labelFontWeight": "bold", "labelColor": "#000", "titleFont": "Lato", "titleFontSize": 13.5, "titleFontWeight": "bold", "titleColor": "#000", "labelOverlap": false},
 "axisX": {"labelAngle": 0, "labelPadding": 21, "titlePadding": 5, "labelFontSize": 12.5},
 "axisY": {"labelPadding": 21, "titlePadding": -2},
 "legend": {"labelFont": "Lato", "labelFontSize": 14, "labelColor": "#000", "symbolSize": 100, "symbolStrokeWidth": 2, "symbolOpacity": 1, "labelOffset": 10, "rowPadding": 3, "padding": 0}
}
}
